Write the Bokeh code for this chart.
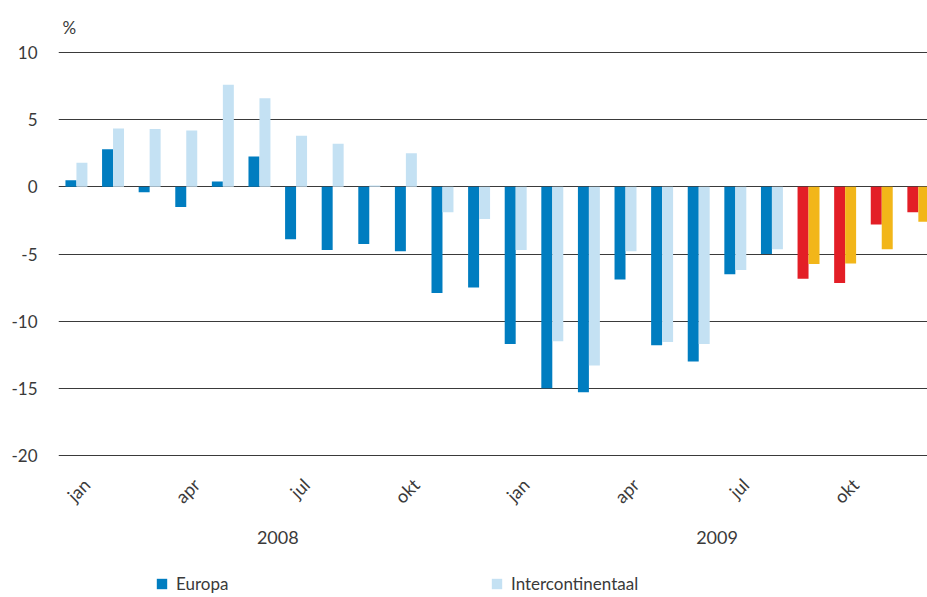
import math
from bokeh.plotting import figure
from bokeh.layouts import column
from bokeh.models import (ColumnDataSource, FixedTicker, LinearAxis, Legend,
                          LegendItem, Range1d)
from bokeh.transform import dodge
from bokeh.embed import file_html
from bokeh.resources import INLINE

# ---- data ----
months = ["jan", "feb", "mrt", "apr", "mei", "jun", "jul", "aug", "sep", "okt", "nov", "dec"] * 2
years = [2008] * 12 + [2009] * 12
europa = [0.5, 2.8, -0.4, -1.5, 0.4, 2.25, -3.9, -4.7, -4.25, -4.8, -7.9, -7.5,
          -11.7, -15.0, -15.3, -6.9, -11.8, -13.0, -6.5, -5.0, -6.85, -7.15, -2.8, -1.9]
intercontinentaal = [1.8, 4.35, 4.3, 4.2, 7.6, 6.6, 3.8, 3.2, 0.1, 2.5, -1.9, -2.4,
                     -4.7, -11.5, -13.3, -4.8, -11.55, -11.7, -6.2, -4.65, -5.75, -5.7, -4.65, -2.6]
estimate = [False] * 20 + [True] * 4
tick_months = ["jan", "apr", "jul", "okt"]
y_ticks = [-20, -15, -10, -5, 0, 5, 10]

FONT = "Lato"
TXT = "#3a3a3a"

idx = list(range(len(months)))
eu_color = ["#E31E26" if e else "#007DC0" for e in estimate]
ic_color = ["#F2B619" if e else "#C4E1F3" for e in estimate]
src = ColumnDataSource(dict(x=idx, europa=europa, inter=intercontinentaal,
                            eu_color=eu_color, ic_color=ic_color))

X0, X1 = -0.49, 23.25
p = figure(width=927, height=560, output_backend="svg", toolbar_location=None,
           x_range=Range1d(X0, X1), y_range=Range1d(-20.3, 10.3),
           x_axis_location=None,
           min_border_left=58, min_border_right=0, min_border_top=48,
           min_border_bottom=101)
# rotated month labels end at their anchor; a range shifted by ~0.28 month
# centres them under each month's pair of bars, as in the original
p.extra_x_ranges = {"labels": Range1d(X0 - 0.28, X1 - 0.28)}


def bars(fig):
    a = fig.vbar(x=dodge("x", -0.15, range=fig.x_range), top="europa", bottom=0, width=0.3,
                 source=src, fill_color="eu_color", line_color=None)
    b = fig.vbar(x=dodge("x", 0.15, range=fig.x_range), top="inter", bottom=0, width=0.3,
                 source=src, fill_color="ic_color", line_color=None)
    return a, b


bars(p)

# title "%"
p.title.text = "%"
p.title.align = "left"
p.title.offset = 4
p.title.standoff = 21
p.title.text_font = FONT
p.title.text_font_style = "normal"
p.title.text_font_size = "17px"
p.title.text_color = TXT

p.outline_line_color = None
p.background_fill_color = "white"
p.border_fill_color = "white"

# y axis
p.yaxis.ticker = FixedTicker(ticks=y_ticks)
p.yaxis.major_label_overrides = {t: str(t) for t in y_ticks}
p.yaxis.axis_line_color = None
p.yaxis.major_tick_line_color = None
p.yaxis.minor_tick_line_color = None
p.yaxis.major_tick_out = 0
p.yaxis.major_tick_in = 0
p.yaxis.major_label_standoff = 21
p.yaxis.major_label_text_font = FONT
p.yaxis.major_label_text_font_size = "17px"
p.yaxis.major_label_text_color = TXT
p.ygrid.ticker = FixedTicker(ticks=y_ticks)
p.ygrid.grid_line_color = "#3a3a3a"
p.ygrid.grid_line_width = 1
p.xgrid.grid_line_color = None


def style_axis(ax, size, standoff):
    ax.axis_line_color = None
    ax.major_tick_line_color = None
    ax.minor_tick_line_color = None
    ax.major_tick_out = 0
    ax.major_tick_in = 0
    ax.major_label_standoff = standoff
    ax.major_label_text_font = FONT
    ax.major_label_text_font_size = size
    ax.major_label_text_color = TXT


# x axis: months
mticks = [i for i in idx if months[i] in tick_months]
max_ = LinearAxis(x_range_name="labels", ticker=FixedTicker(ticks=mticks),
                  major_label_overrides={i: months[i] for i in mticks},
                  major_label_orientation=math.pi / 4)
style_axis(max_, "18px", 22)
p.add_layout(max_, "below")

# x axis: years
uyears = sorted(set(years))
ypos = [sum(i for i in idx if years[i] == y) / years.count(y) for y in uyears]
yax = LinearAxis(ticker=FixedTicker(ticks=ypos),
                 major_label_overrides={pos: str(y) for pos, y in zip(ypos, uyears)})
style_axis(yax, "18px", 12)
p.add_layout(yax, "below")

# legend strip (same series, bars lie outside its view; only the legend shows)
lg = figure(width=927, height=37, output_backend="svg", toolbar_location=None,
            x_range=Range1d(X0, X1), y_range=Range1d(100, 101),
            x_axis_location=None, y_axis_location=None,
            min_border_left=0, min_border_right=0, min_border_top=0, min_border_bottom=0)
lg.grid.grid_line_color = None
lg.outline_line_color = None
l_eu, l_ic = bars(lg)
legend = Legend(items=[LegendItem(label="Europa", renderers=[l_eu], index=0),
                       LegendItem(label="Intercontinentaal", renderers=[l_ic], index=0)],
                orientation="horizontal", location=(97, 3),
                glyph_width=13, glyph_height=13, label_standoff=8,
                label_width=314, label_height=13, spacing=0, padding=0, margin=0,
                border_line_color=None, background_fill_alpha=0,
                label_text_font=FONT, label_text_font_size="17px",
                label_text_color=TXT)
lg.add_layout(legend, "center")

open("out.html", "w").write(file_html(column(p, lg, spacing=0), INLINE))
